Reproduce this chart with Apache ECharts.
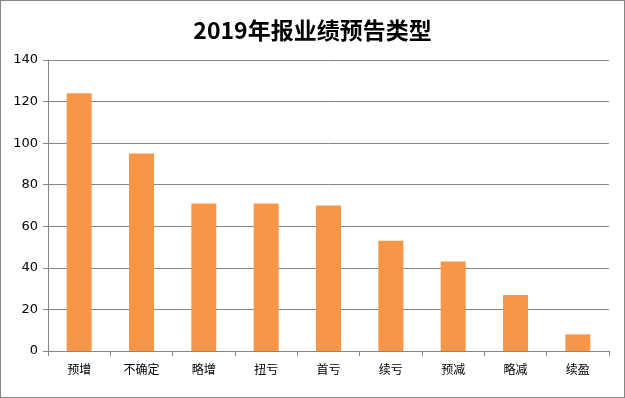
<!DOCTYPE html>
<html>
<head>
<meta charset="utf-8">
<script src="https://cdn.jsdelivr.net/npm/echarts@6/dist/echarts.min.js"></script>
<style>
  html, body { margin: 0; padding: 0; background: #fff; }
  #chart {
    width: 625px;
    height: 398px;
    box-sizing: border-box;
    border: 1px solid #868686;
  }
</style>
</head>
<body>
<div id="chart"></div>
<script>
// 业绩预告类型
var categories = ["预增", "不确定", "略增", "扭亏", "首亏", "续亏", "预减", "略减", "续盈"];
var counts = [124, 95, 71, 71, 70, 53, 43, 27, 8];

var myChart = echarts.init(document.getElementById("chart"));
var option = {
  animation: false,
  title: {
    text: "2019年报业绩预告类型",
    left: "center",
    top: 13,
    textStyle: {
      fontFamily: "Noto Sans CJK SC",
      fontSize: 23,
      fontWeight: "bold",
      color: "#000"
    }
  },
  grid: {
    left: 47,
    right: 15,
    top: 59,
    bottom: 46,
    containLabel: false
  },
  xAxis: {
    type: "category",
    data: categories,
    axisLine: { lineStyle: { color: "#868686" } },
    axisTick: { show: true, length: 5, lineStyle: { color: "#868686" } },
    axisLabel: {
      color: "#000",
      fontSize: 12,
      fontFamily: "Noto Sans CJK SC",
      margin: 12
    }
  },
  yAxis: {
    type: "value",
    min: 0,
    max: 140,
    interval: 20,
    axisLine: { show: true, lineStyle: { color: "#868686" } },
    axisTick: { show: true, length: 5, lineStyle: { color: "#868686" } },
    splitLine: { show: true, lineStyle: { color: "#868686", width: 1 } },
    axisLabel: {
      color: "#000",
      fontSize: 13,
      fontFamily: "DejaVu Sans",
      margin: 10
    }
  },
  series: [
    {
      type: "bar",
      data: counts,
      barWidth: 25,
      itemStyle: { color: "#F79646" }
    }
  ]
};
myChart.setOption(option);
</script>
</body>
</html>
